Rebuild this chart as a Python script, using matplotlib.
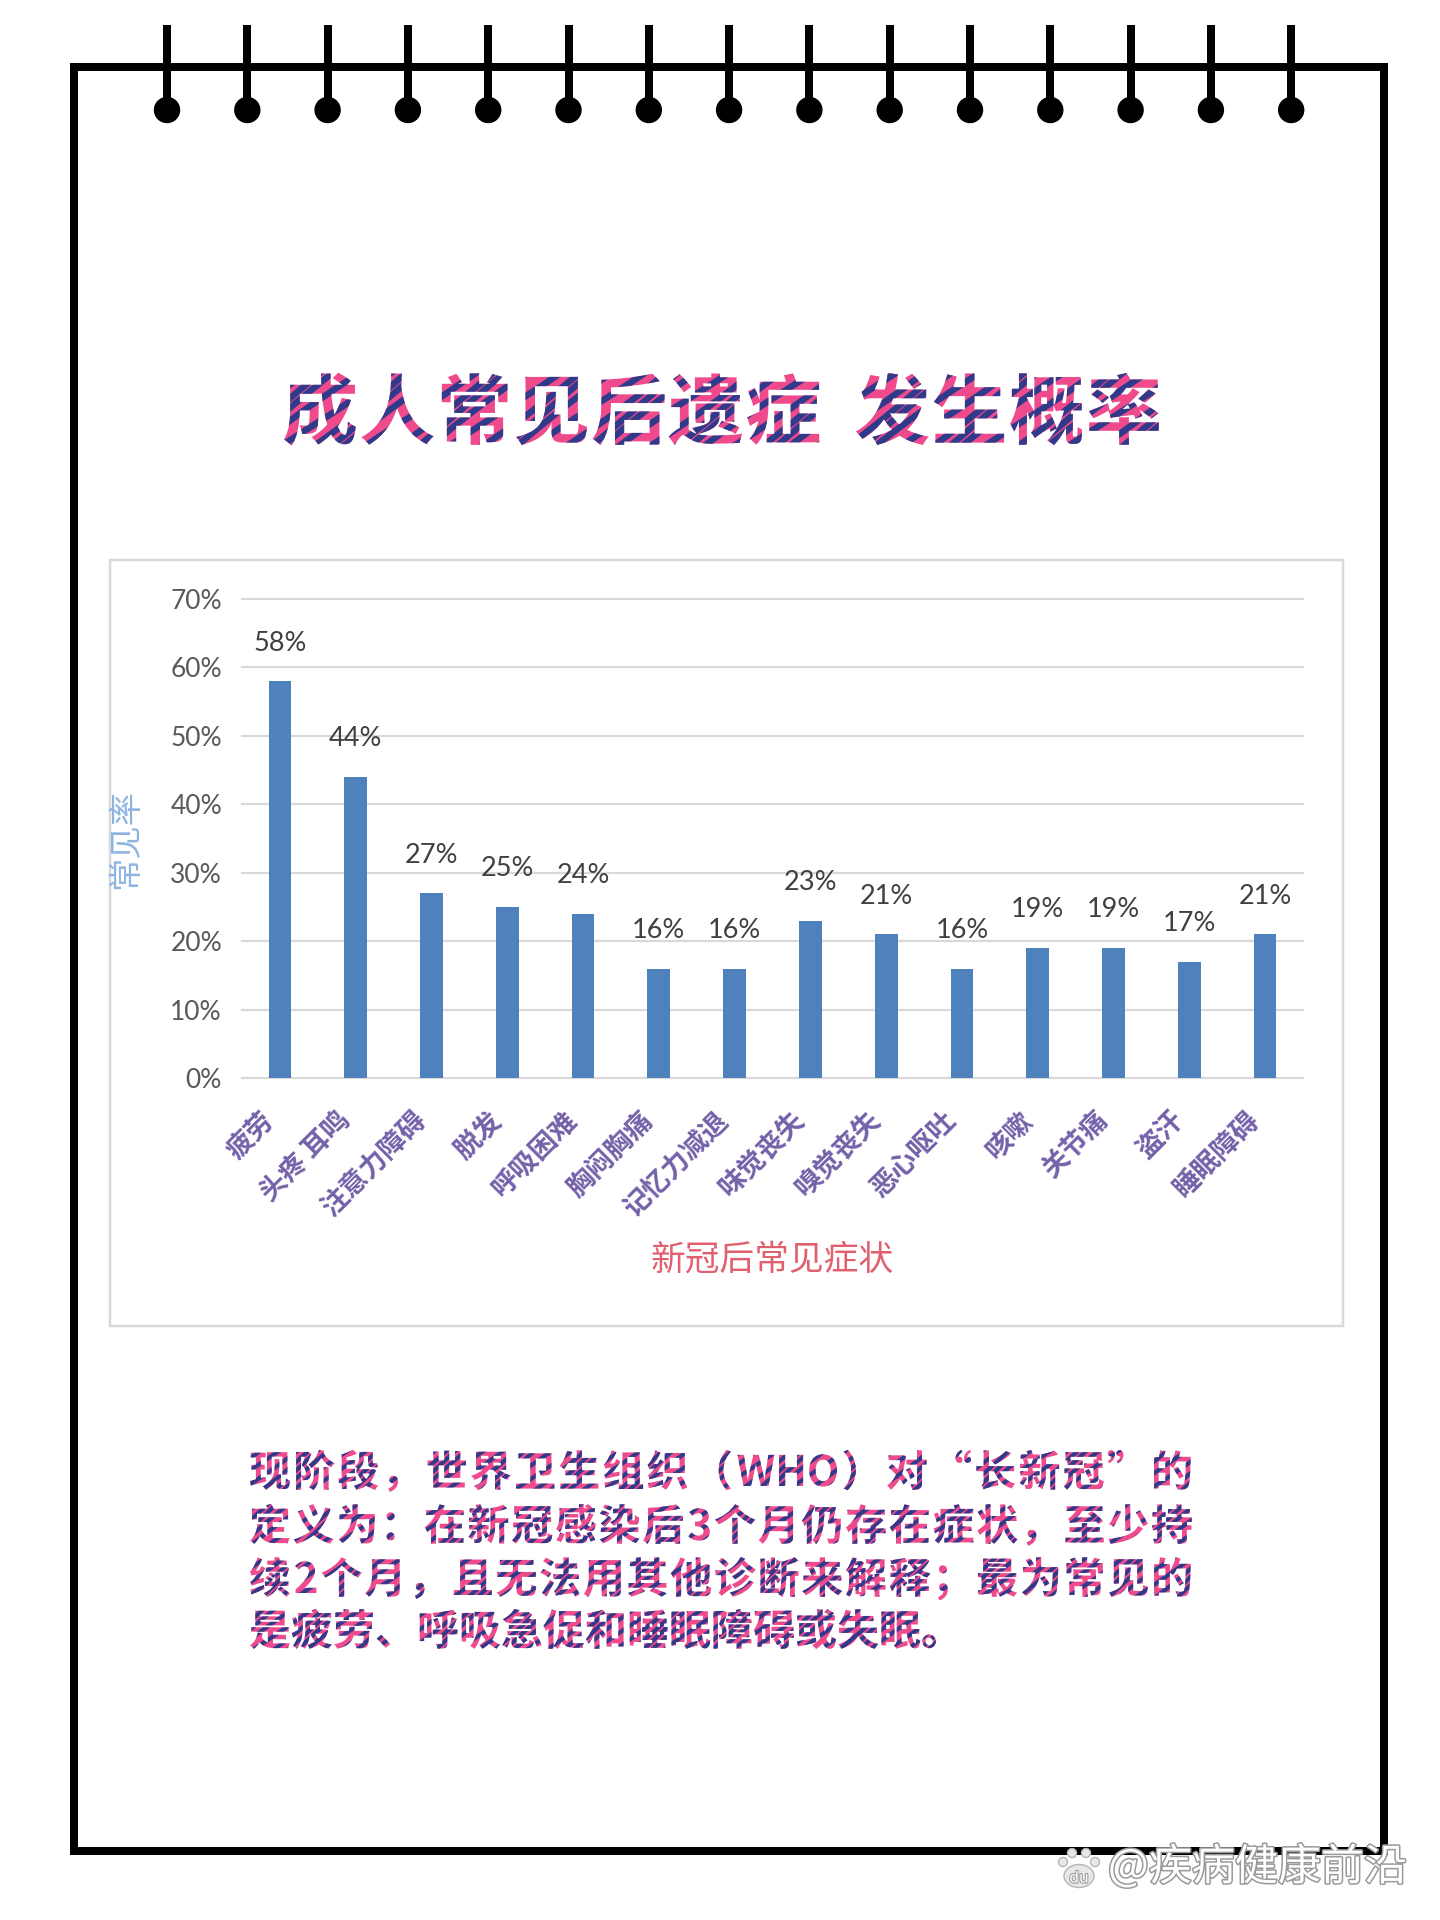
import re

import matplotlib

matplotlib.use("Agg")
import matplotlib.patheffects as pe
import matplotlib.pyplot as plt
import numpy as np
from matplotlib.collections import LineCollection
from matplotlib.font_manager import FontProperties
from matplotlib.patches import Circle, Ellipse, PathPatch, Rectangle
from matplotlib.path import Path
from matplotlib.textpath import TextPath
from matplotlib.transforms import Affine2D, ScaledTranslation

plt.rcParams["font.family"] = ["Noto Sans CJK SC", "DejaVu Sans"]

TITLE = "成人常见后遗症 发生概率"
SYMPTOMS = ["疲劳", "头疼 耳鸣", "注意力障碍", "脱发", "呼吸困难", "胸闷胸痛", "记忆力减退",
            "味觉丧失", "嗅觉丧失", "恶心呕吐", "咳嗽", "关节痛", "盗汗", "睡眠障碍"]
RATES = [58, 44, 27, 25, 24, 16, 16, 23, 21, 16, 19, 19, 17, 21]
Y_TICKS = [0, 10, 20, 30, 40, 50, 60, 70]
Y_LABEL = "常见率"
X_LABEL = "新冠后常见症状"
BODY_LINES = [
    "现阶段，世界卫生组织（WHO）对“长新冠”的",
    "定义为：在新冠感染后3个月仍存在症状，至少持",
    "续2个月，且无法用其他诊断来解释；最为常见的",
    "是疲劳、呼吸急促和睡眠障碍或失眠。",
]
WATERMARK = "@疾病健康前沿"

PINK = "#ee4a8c"
NAVY = "#2f3a8a"
BAR = "#4f81bd"
GRID = "#d9d9d9"
PX = 0.72  # points per pixel at dpi 100


def striped_text(ax, text, x0, baseline, size, weight, width=None,
                 gap=12, band=5, slope=0.8, wave=4):
    prop = FontProperties(family="Noto Sans CJK SC", weight=weight)
    tokens = re.findall(r"[!-~]+|.", text)
    cells = []
    for tok in tokens:
        if tok.isspace():
            cells.append((tok, 0.4 * size))
        elif tok.isascii():
            ext = TextPath((0, 0), tok, size=size, prop=prop).get_extents()
            cells.append((tok, ext.width + 0.12 * size))
        else:
            cells.append((tok, size))
    extra = 0
    if width is not None and len(cells) > 1:
        extra = (width - sum(w for _, w in cells)) / (len(cells) - 1)

    paths = []
    x = x0
    for tok, w in cells:
        if not tok.isspace():
            if tok.isascii():
                ext = TextPath((0, 0), tok, size=size, prop=prop).get_extents()
                paths.append(TextPath((x + 0.06 * size - ext.x0, 0), tok, size=size, prop=prop))
            else:
                paths.append(TextPath((x, 0), tok, size=size, prop=prop))
        x += w + extra
    path = Path.make_compound_path(*paths)
    trans = Affine2D().scale(1, -1).translate(0, baseline) + ax.transData
    patch = PathPatch(path, transform=trans, facecolor=PINK, edgecolor="none", zorder=5)
    ax.add_patch(patch)

    ext = path.get_extents()
    top, bottom = baseline - ext.y1, baseline - ext.y0
    xs = np.linspace(ext.x0 - 10, ext.x1 + 10, 500)
    span = slope * (ext.x1 - ext.x0 + 20)
    segs = []
    for c in np.arange(top - wave - 8, bottom + span + wave + 8, gap):
        ys = c - slope * (xs - ext.x0 + 10) + wave * np.sin(xs / (size * 0.7) + c * 0.07)
        segs.append(np.column_stack([xs, ys]))
    lc = LineCollection(segs, colors=NAVY, linewidths=band * PX, zorder=5.1)
    ax.add_collection(lc, autolim=False)
    lc.set_clip_path(patch)


fig = plt.figure(figsize=(14.4, 19.2), dpi=100)
bg = fig.add_axes([0, 0, 1, 1])
bg.set_xlim(0, 1440)
bg.set_ylim(1920, 0)
bg.axis("off")

# notebook frame and rings
bg.add_patch(Rectangle((74, 67), 1310, 1784, fill=False, edgecolor="black",
                       lw=8 * PX, joinstyle="miter", zorder=2))
ring_x = 167 + 80.3 * np.arange(15)
bg.vlines(ring_x, 25, 108, color="black", lw=8 * PX, zorder=3)
for rx in ring_x:
    bg.add_patch(Circle((rx, 110), 12.5, color="black", zorder=3))

# chart card
bg.add_patch(Rectangle((110, 560), 1233, 766, facecolor="white", edgecolor=GRID,
                       lw=2.5 * PX, zorder=1))

striped_text(bg, TITLE, 282, 438, 76, "heavy", width=880, gap=16, band=6.5, slope=0.75, wave=6)
baselines = [1486, 1540, 1593, 1645]
for i, line in enumerate(BODY_LINES):
    w = 944 if i < len(BODY_LINES) - 1 else None
    striped_text(bg, line, 249, baselines[i], 42, "bold", width=w, gap=11, band=4.2)

# watermark
bg.add_patch(Ellipse((1079, 1876), 30, 23, facecolor="#e8e8e8", edgecolor="#b5b5b5", lw=1, zorder=9))
for tx, ty in [(1063, 1862), (1072, 1853), (1086, 1853), (1095, 1862)]:
    bg.add_patch(Circle((tx, ty), 4.5, facecolor="#e8e8e8", edgecolor="#b5b5b5", lw=1, zorder=9))
bg.text(1079, 1878, "du", fontsize=11, color="white", ha="center", va="center", zorder=10,
        family="DejaVu Sans", path_effects=[pe.withStroke(linewidth=1.5, foreground="#9a9a9a")])
bg.text(1108, 1868, WATERMARK, fontsize=31, color="white", ha="left", va="center", zorder=10,
        path_effects=[pe.withStroke(linewidth=2.2, foreground="#9a9a9a")])

# bar chart
ax = fig.add_axes([242 / 1440, (1920 - 1078) / 1920, 1061 / 1440, 479 / 1920])
ax.set_facecolor("none")
x = np.arange(len(SYMPTOMS))
bars = ax.bar(x, RATES, width=0.3, color=BAR, zorder=3)
ax.set_xlim(-0.5, len(SYMPTOMS) - 0.5)
ax.set_ylim(0, 70)
ax.set_yticks(Y_TICKS, labels=[f"{t}%" for t in Y_TICKS], fontfamily="Lato",
              fontsize=19, color="#595959")
ax.set_xticks(x, labels=SYMPTOMS, rotation=45, ha="right", va="top",
              fontsize=19.5, fontweight="bold", color="#7461a9")
shift = ScaledTranslation(6 / 100, 0, fig.dpi_scale_trans)
for lab in ax.get_xticklabels():
    lab.set_transform(lab.get_transform() + shift)
ax.tick_params(axis="both", length=0)
ax.tick_params(axis="y", pad=20 * PX)
ax.tick_params(axis="x", pad=28 * PX)
ax.yaxis.grid(True, color=GRID, lw=2.2 * PX)
for gl in ax.get_ygridlines():
    gl.set_clip_on(False)
ax.set_axisbelow(True)
for s in ax.spines.values():
    s.set_visible(False)

for rect, v in zip(bars, RATES):
    ax.annotate(f"{v}%", (rect.get_x() + rect.get_width() / 2, v), xytext=(0, 38 * PX),
                textcoords="offset points", ha="center", va="center",
                fontsize=19.5, fontfamily="Lato", color="#404040")

ax.set_ylabel(Y_LABEL, fontsize=24, color="#8db4e2")
ax.yaxis.set_label_coords(-0.093, 0.5)
ax.set_xlabel(X_LABEL, fontsize=25, color="#e0606e")
ax.xaxis.set_label_coords(0.5, (1078 - 1243) / 479)

fig.savefig("out.png", dpi=100)
